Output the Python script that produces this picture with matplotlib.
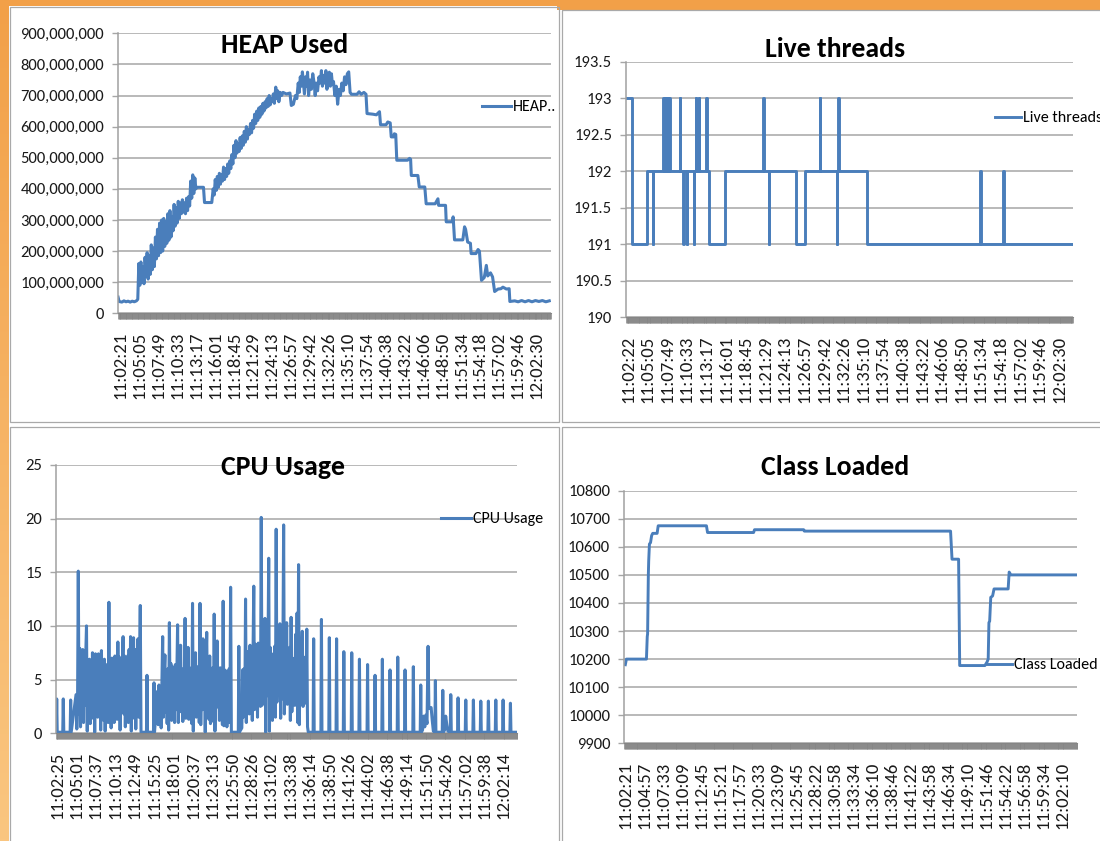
import numpy as np
import matplotlib
matplotlib.use("Agg")
import matplotlib.pyplot as plt
from matplotlib.patches import Rectangle
from matplotlib.ticker import MultipleLocator

# ======================= DATA =======================
# x values are minutes after the first tick label of each chart
heap_labels = ["11:02:21", "11:05:05", "11:07:49", "11:10:33", "11:13:17", "11:16:01",
               "11:18:45", "11:21:29", "11:24:13", "11:26:57", "11:29:42", "11:32:26",
               "11:35:10", "11:37:54", "11:40:38", "11:43:22", "11:46:06", "11:48:50",
               "11:51:34", "11:54:18", "11:57:02", "11:59:46", "12:02:30"]
thr_labels = ["11:02:22"] + heap_labels[1:]
cpu_labels = ["11:02:25", "11:05:01", "11:07:37", "11:10:13", "11:12:49", "11:15:25",
              "11:18:01", "11:20:37", "11:23:13", "11:25:50", "11:28:26", "11:31:02",
              "11:33:38", "11:36:14", "11:38:50", "11:41:26", "11:44:02", "11:46:38",
              "11:49:14", "11:51:50", "11:54:26", "11:57:02", "11:59:38", "12:02:14"]
cls_labels = ["11:02:21", "11:04:57", "11:07:33", "11:10:09", "11:12:45", "11:15:21",
              "11:17:57", "11:20:33", "11:23:09", "11:25:45", "11:28:22", "11:30:58",
              "11:33:34", "11:36:10", "11:38:46", "11:41:22", "11:43:58", "11:46:34",
              "11:49:10", "11:51:46", "11:54:22", "11:56:58", "11:59:34", "12:02:10"]

# HEAP used (millions of bytes)
heap_t = [-0.35, -0.2, 0.2, 0.5, 0.8, 1.1, 1.4, 1.7, 2.0, 2.3,
          2.5, 2.65, 2.8, 2.95, 3.1, 3.25, 3.4, 3.55, 3.7, 3.85,
          4.0, 4.15, 4.3, 4.45, 4.6, 4.75, 4.9, 5.05, 5.2, 5.35,
          5.5, 5.65, 5.8, 5.95, 6.1, 6.25, 6.4, 6.55, 6.7, 6.85,
          7.0, 7.15, 7.3, 7.45, 7.6, 7.75, 7.9, 8.05, 8.2, 8.35,
          8.5, 8.65, 8.8, 8.95, 9.1, 9.25, 9.4, 9.55, 9.7, 9.85,
          10.0, 10.15, 10.3, 10.45, 10.6, 10.75, 10.9, 11.0, 12.0, 12.15,
          13.2, 13.4, 13.55, 13.7, 13.85, 14.0, 14.15, 14.3, 14.45, 14.6,
          14.75, 14.9, 15.05, 15.2, 15.35, 15.5, 15.65, 15.8, 15.95, 16.1,
          16.25, 16.4, 16.55, 16.7, 16.85, 17.0, 17.15, 17.3, 17.45, 17.6,
          17.75, 17.9, 18.05, 18.2, 18.35, 18.5, 18.65, 18.8, 18.95, 19.1,
          19.25, 19.4, 19.55, 19.7, 19.85, 20.0, 20.15, 20.3, 20.45, 20.6,
          20.75, 20.9, 21.05, 21.2, 21.35, 21.5, 21.65, 21.8, 21.95, 22.1,
          22.25, 22.45, 22.6, 22.75, 22.9, 23.1, 23.3, 23.5, 24.0, 24.5,
          24.7, 25.0, 25.3, 25.5, 25.7, 25.85, 26.0, 26.15, 26.3, 26.45,
          26.6, 26.75, 26.9, 27.05, 27.2, 27.4, 27.6, 27.8, 28.0, 28.15,
          28.3, 28.5, 28.7, 28.9, 29.05, 29.2, 29.4, 29.55, 29.7, 29.85,
          30.0, 30.2, 30.35, 30.5, 30.65, 30.8, 31.0, 31.2, 31.4, 31.6,
          31.8, 32.0, 32.2, 32.4, 32.6, 32.8, 33.0, 33.2, 33.4, 34.2,
          34.5, 34.8, 35.2, 35.5, 35.65, 36.5, 37.0, 37.45, 37.6, 38.4,
          38.65, 39.0, 39.15, 39.5, 39.6, 39.8, 39.95, 41.5, 41.8, 41.95,
          42.05, 43.0, 43.2, 44.0, 44.2, 45.5, 45.9, 46.0, 47.0, 47.1,
          48.0, 48.1, 48.3, 49.5, 49.75, 49.9, 50.2, 50.6, 50.7, 51.4,
          51.7, 51.9, 52.2, 52.6, 52.9, 53.1, 53.5, 53.8, 54.1, 54.6,
          55.0, 55.3, 55.8, 56.2, 56.3, 57.0, 57.5, 58.0, 58.5, 59.0,
          59.5, 60.0, 60.5, 61.0, 61.5, 62.0]
heap_mb = [52, 38, 36, 40, 37, 39, 36, 39, 37, 40,
           45, 160, 90, 165, 100, 150, 95, 180, 120, 195,
           110, 185, 125, 220, 140, 210, 150, 245, 175, 270,
           185, 290, 195, 300, 200, 305, 215, 295, 225, 320,
           235, 330, 245, 310, 265, 350, 280, 340, 290, 360,
           305, 355, 320, 365, 325, 355, 320, 370, 330, 375,
           345, 425, 370, 445, 385, 435, 400, 405, 405, 356,
           356, 400, 380, 430, 395, 440, 405, 450, 415, 445,
           425, 470, 430, 465, 440, 480, 450, 490, 465, 510,
           480, 540, 500, 555, 515, 545, 520, 565, 530, 570,
           540, 585, 550, 600, 560, 590, 575, 610, 580, 620,
           595, 640, 610, 650, 620, 660, 630, 665, 640, 675,
           650, 680, 660, 690, 665, 700, 670, 690, 680, 705,
           675, 727, 690, 715, 680, 710, 700, 710, 705, 708,
           668, 672, 700, 690, 740, 710, 760, 730, 776, 740,
           705, 760, 730, 775, 700, 750, 720, 770, 740, 700,
           740, 715, 760, 740, 780, 730, 765, 740, 780, 720,
           750, 775, 730, 770, 735, 745, 700, 730, 672, 720,
           700, 740, 715, 760, 735, 770, 776, 710, 704, 704,
           712, 704, 710, 704, 642, 640, 638, 648, 606, 606,
           615, 612, 567, 567, 577, 575, 492, 492, 498, 495,
           443, 443, 406, 406, 352, 352, 368, 347, 347, 294,
           294, 310, 236, 236, 278, 270, 229, 225, 192, 192,
           205, 200, 106, 115, 154, 120, 130, 117, 70, 78,
           79, 84, 78, 79, 38, 40, 37, 41, 37, 41,
           37, 41, 38, 41, 37, 40]

# Live threads: value held from each time until the next one
thr_t = [-0.3, 0.49, 2.67, 3.45, 3.55, 4.95, 5.02, 5.15, 5.22, 5.35,
         5.42, 5.55, 5.62, 5.78, 5.85, 7.25, 7.32, 7.72, 7.79, 8.2,
         8.27, 9.18, 9.25, 9.42, 9.49, 9.9, 9.97, 10.93, 11.0, 11.25,
         13.48, 18.88, 18.95, 19.62, 19.69, 23.5, 24.7, 26.73, 26.8, 29.15,
         29.22, 29.33, 29.4, 33.3, 49.15, 49.22, 52.35, 52.42, 62.1]
thr_v = [193, 191, 192, 191, 192, 193, 192, 193, 192, 193,
         192, 193, 192, 193, 192, 193, 192, 191, 192, 191,
         192, 191, 192, 193, 192, 193, 192, 193, 192, 191,
         192, 193, 192, 191, 192, 191, 192, 193, 192, 191,
         192, 193, 192, 191, 192, 191, 192, 191, 191]

# CPU usage (%): dense bursts sampled every 0.1 min, isolated spikes elsewhere
cpu_base = 0.1
cpu_step = 0.1
cpu_burst_start = [2.55, 13.45, 24.75]
cpu_burst1 = [3.6, 0.4, 2.5, 15.1, 1.8, 7.9, 0.6, 7.5, 2.4, 7.8,
              1.0, 6.8, 2.6, 7.3, 10.0, 0.2, 6.7, 2.8, 6.9, 0.9,
              6.5, 2.2, 7.5, 1.4, 6.4, 0.1, 7.4, 3.0, 7.2, 1.5,
              7.4, 2.5, 6.9, 0.3, 7.7, 2.8, 6.6, 1.2, 6.9, 0.2,
              6.4, 2.0, 6.1, 1.0, 12.2, 1.2, 6.6, 0.5, 7.0, 2.4,
              6.2, 1.0, 7.2, 2.6, 6.8, 1.3, 8.5, 2.0, 7.1, 0.3,
              6.0, 2.2, 6.6, 9.0, 1.8, 7.2, 0.6, 6.4, 3.2, 7.2,
              1.0, 7.8, 2.0, 9.0, 0.2, 7.0, 2.5, 8.9, 1.4, 7.8,
              0.4, 6.2, 2.2, 8.8, 1.5, 6.0, 11.9, 0.1]
cpu_burst2 = [3.9, 0.8, 4.5, 1.2, 4.0, 0.5, 4.8, 9.0, 1.5, 5.6,
              7.3, 2.0, 5.5, 0.9, 6.0, 0.3, 10.3, 2.5, 6.5, 1.2,
              6.2, 3.0, 5.8, 1.0, 6.4, 2.2, 5.6, 10.1, 1.0, 6.2,
              2.0, 8.2, 2.8, 6.0, 1.1, 5.2, 3.0, 10.7, 1.4, 6.4,
              2.4, 8.0, 1.3, 6.1, 2.5, 5.8, 0.9, 12.1, 0.2, 6.3,
              3.1, 7.5, 1.5, 6.2, 2.6, 5.9, 1.0, 12.1, 0.8, 5.7,
              2.2, 8.8, 2.6, 6.0, 0.1, 6.2, 9.4, 2.0, 5.4, 1.3,
              7.2, 0.9, 5.8, 2.8, 6.1, 1.1, 11.1, 0.2, 6.0, 2.4,
              8.6, 3.0, 5.6, 1.2, 6.1, 2.0, 5.4, 0.8, 12.3, 0.7,
              5.9, 2.4, 5.8, 0.6, 5.1, 1.8, 6.0, 1.0, 13.6, 0.1]
cpu_burst3 = [0.5, 5.9, 1.5, 6.0, 2.2, 12.5, 1.0, 7.6, 3.3, 6.2,
              1.8, 8.2, 2.5, 6.9, 1.2, 7.4, 13.7, 2.2, 8.3, 4.0,
              7.5, 1.5, 8.4, 3.0, 6.8, 2.5, 20.1, 2.6, 8.0, 3.6,
              7.0, 10.7, 0.1, 8.6, 3.5, 7.2, 16.3, 0.2, 8.0, 3.0,
              7.4, 1.2, 6.9, 3.3, 8.1, 1.5, 19.0, 2.9, 7.8, 3.6,
              6.9, 10.2, 1.4, 8.5, 3.2, 7.6, 19.4, 1.8, 8.2, 3.3,
              10.3, 2.7, 7.2, 3.8, 8.0, 1.2, 10.8, 2.0, 7.0, 4.1,
              6.6, 2.6, 9.2, 3.2, 11.2, 1.0, 15.7, 0.8, 6.9, 3.0,
              7.0, 9.5, 2.5, 6.5, 3.6, 7.1, 2.8, 9.7, 0.6, 0.1]
cpu_spike_t = [-0.04, 0.84, 1.83, 12.05, 12.99, 24.35,
               34.37, 35.41, 36.47, 37.44, 38.41, 39.47, 40.5, 41.59, 42.59, 43.57,
               44.6, 45.63, 46.61, 47.72, 48.71, 50.67, 51.66, 52.73, 53.71,
               54.74, 55.76, 56.75, 57.77, 58.76, 59.74, 60.72]
cpu_spike_v = [3.2, 3.2, 3.1, 5.4, 4.7, 8.1,
               8.8, 10.6, 8.9, 8.8, 7.6, 7.5, 6.9, 6.4, 5.4, 6.9,
               5.9, 7.1, 5.9, 6.2, 4.5, 4.9, 4.0, 3.6, 3.3,
               3.1, 3.1, 3.0, 3.0, 3.1, 3.1, 2.8]
cpu_blob_t = [48.95, 49.1, 49.25, 49.4, 49.55, 49.69, 49.8, 49.95, 50.1, 50.25, 50.4,
              51.9, 52.05, 52.2, 52.35]
cpu_blob_v = [0.3, 1.6, 0.6, 1.7, 0.9, 8.1, 2.4, 2.3, 2.4, 1.2, 0.2,
              0.3, 1.6, 0.8, 0.2]

# Class loaded (count)
cls_t = [0.0, 0.15, 2.89, 3.0, 3.05, 3.15, 3.2, 3.3, 3.45, 3.6,
         3.75, 4.35, 4.5, 11.1, 11.25, 17.55, 17.68, 24.4, 24.5, 44.5,
         44.7, 45.6, 45.75, 49.2, 49.5, 49.65, 49.75, 49.85, 50.0, 50.25,
         50.45, 52.38, 52.52, 52.75, 61.9]
cls_v = [10180, 10200, 10200, 10280, 10290, 10500, 10550, 10610, 10615, 10640,
         10648, 10648, 10675, 10675, 10651, 10651, 10661, 10661, 10656, 10656,
         10556, 10556, 10177, 10177, 10190, 10200, 10330, 10335, 10420, 10425,
         10450, 10450, 10510, 10500, 10500]

# ======================= STYLE =======================
W, H = 1100, 841
BLUE = "#4A7EBB"
GRID = "#a6a6a6"
BAND = "#858585"
FONT = ["Carlito", "Liberation Sans", "DejaVu Sans"]
Y_SIZE = 12
X_SIZE = 13.5
TITLE_SIZE = 20
LEG_SIZE = 11.5

plt.rcParams["font.family"] = FONT


def minutes_from(labels):
    secs = []
    for s in labels:
        h, m, sec = (int(p) for p in s.split(":"))
        secs.append(h * 3600 + m * 60 + sec)
    return [(v - secs[0]) / 60.0 for v in secs]


fig = plt.figure(figsize=(W / 100, H / 100), dpi=100)

# background (pixel coordinates, y downward)
bg = fig.add_axes([0, 0, 1, 1])
bg.axis("off")
top_c = np.array([0xF2, 0xA0, 0x48]) / 255
bot_c = np.array([0xFA, 0xC6, 0x80]) / 255
frac = np.linspace(0, 1, 200)[:, None, None]
grad = top_c[None, None, :] * (1 - frac) + bot_c[None, None, :] * frac
bg.imshow(grad, extent=[0, W, H, 0], aspect="auto", interpolation="bilinear")
bg.set_xlim(0, W)
bg.set_ylim(H, 0)
bg.add_patch(Rectangle((9, 6), W + 10, H + 10, facecolor="white", edgecolor="none"))
bg.add_patch(Rectangle((557, -2), W, 11.5, facecolor=top_c, edgecolor="none"))
for (x0, y0, x1, y1) in [(9.5, 6.5, 559, 422), (561.5, 9.5, W + 6, 422),
                         (9.5, 426.5, 559, H + 6), (561.5, 426.5, W + 6, H + 6)]:
    bg.add_patch(Rectangle((x0, y0), x1 - x0, y1 - y0, facecolor="none",
                           edgecolor="#a9a9a9", lw=0.9))


def make_axes(left, top, right, bottom):
    return fig.add_axes([left / W, 1 - bottom / H, (right - left) / W, (bottom - top) / H])


def style(ax, xlim, ylim, yticks, ylabels, xlabels):
    ax.set_facecolor("none")
    ax.set_xlim(*xlim)
    ax.set_ylim(*ylim)
    for s in ("top", "right"):
        ax.spines[s].set_visible(False)
    ax.spines["left"].set_color("#a0a0a0")
    ax.spines["left"].set_linewidth(1.1)
    ax.spines["bottom"].set_color(BAND)
    ax.spines["bottom"].set_linewidth(0.8)
    ax.set_yticks(yticks, ylabels, fontsize=Y_SIZE, color="#1a1a1a")
    ax.grid(axis="y", color=GRID, lw=1.1)
    ax.set_axisbelow(True)
    ax.tick_params(axis="y", length=4, width=1, color=GRID, pad=6)
    ax.set_xticks(minutes_from(xlabels), xlabels, rotation=90,
                  fontsize=X_SIZE, color="#1a1a1a")
    ax.xaxis.set_minor_locator(MultipleLocator(1 / 15))
    ax.tick_params(axis="x", which="both", length=4.6, width=0.55, color=BAND)
    ax.tick_params(axis="x", which="major", pad=8.5)


def title(x, y, s):
    fig.text(x, y, s, transform=bg.transData, ha="center", va="baseline",
             fontsize=TITLE_SIZE, fontweight="bold", color="black")


def legend(ax, x, y, handle_px):
    fs_px = LEG_SIZE * 100 / 72
    ax.legend(loc="center left", bbox_to_anchor=(x, y), bbox_transform=bg.transData,
              frameon=False, borderpad=0, borderaxespad=0,
              handlelength=handle_px / fs_px, handletextpad=0.12,
              prop=dict(size=LEG_SIZE))


# ---------------- HEAP Used ----------------
ax1 = make_axes(118, 33.3, 551, 313.3)
ax1.plot(heap_t, np.array(heap_mb) * 1e6, color=BLUE, lw=2.2, label="HEAP..",
         solid_joinstyle="round")
yt = [i * 100_000_000 for i in range(10)]
style(ax1, (-0.36, 62.25), (0, 900_000_000), yt, [f"{v:,}" for v in yt], heap_labels)
title(284.5, 52.5, "HEAP Used")
legend(ax1, 482, 107, 29)

# ---------------- Live threads ----------------
ax2 = make_axes(626, 61.7, 1073, 317.3)
ax2.plot(thr_t, thr_v, drawstyle="steps-post", color=BLUE, lw=2.1, label="Live threads")
yt = [190, 190.5, 191, 191.5, 192, 192.5, 193, 193.5]
style(ax2, (-0.28, 62.08), (190, 193.5), yt, [f"{v:g}" for v in yt], thr_labels)
title(835.5, 56.5, "Live threads")
legend(ax2, 995, 118, 26)

# ---------------- CPU Usage ----------------
pts = []
for start, vals in zip(cpu_burst_start, [cpu_burst1, cpu_burst2, cpu_burst3]):
    for i, v in enumerate(vals):
        pts.append((start + i * cpu_step, v))
for t, v in zip(cpu_spike_t, cpu_spike_v):
    pts += [(t - 0.07, cpu_base), (t, v), (t + 0.07, cpu_base)]
pts += list(zip(cpu_blob_t, cpu_blob_v))
pts += [(-0.13, cpu_base), (61.6, cpu_base)]
pts.sort()
cpu_x = [p[0] for p in pts]
cpu_y = [p[1] for p in pts]
ax3 = make_axes(56, 464.8, 517, 733.3)
ax3.plot(cpu_x, cpu_y, color=BLUE, lw=2.2, label="CPU Usage")
yt = [0, 5, 10, 15, 20, 25]
style(ax3, (-0.134, 61.6), (0, 25), yt, [str(v) for v in yt], cpu_labels)
title(283, 475, "CPU Usage")
legend(ax3, 441, 519, 30)

# ---------------- Class Loaded ----------------
ax4 = make_axes(624, 490.7, 1077, 743.3)
ax4.plot(cls_t, cls_v, color=BLUE, lw=2.1, label="Class Loaded")
yt = list(range(9900, 10801, 100))
style(ax4, (-0.18, 61.8), (9900, 10800), yt, [str(v) for v in yt], cls_labels)
title(835, 475, "Class Loaded")
legend(ax4, 986, 665, 26)

fig.savefig("out.png", dpi=100)
